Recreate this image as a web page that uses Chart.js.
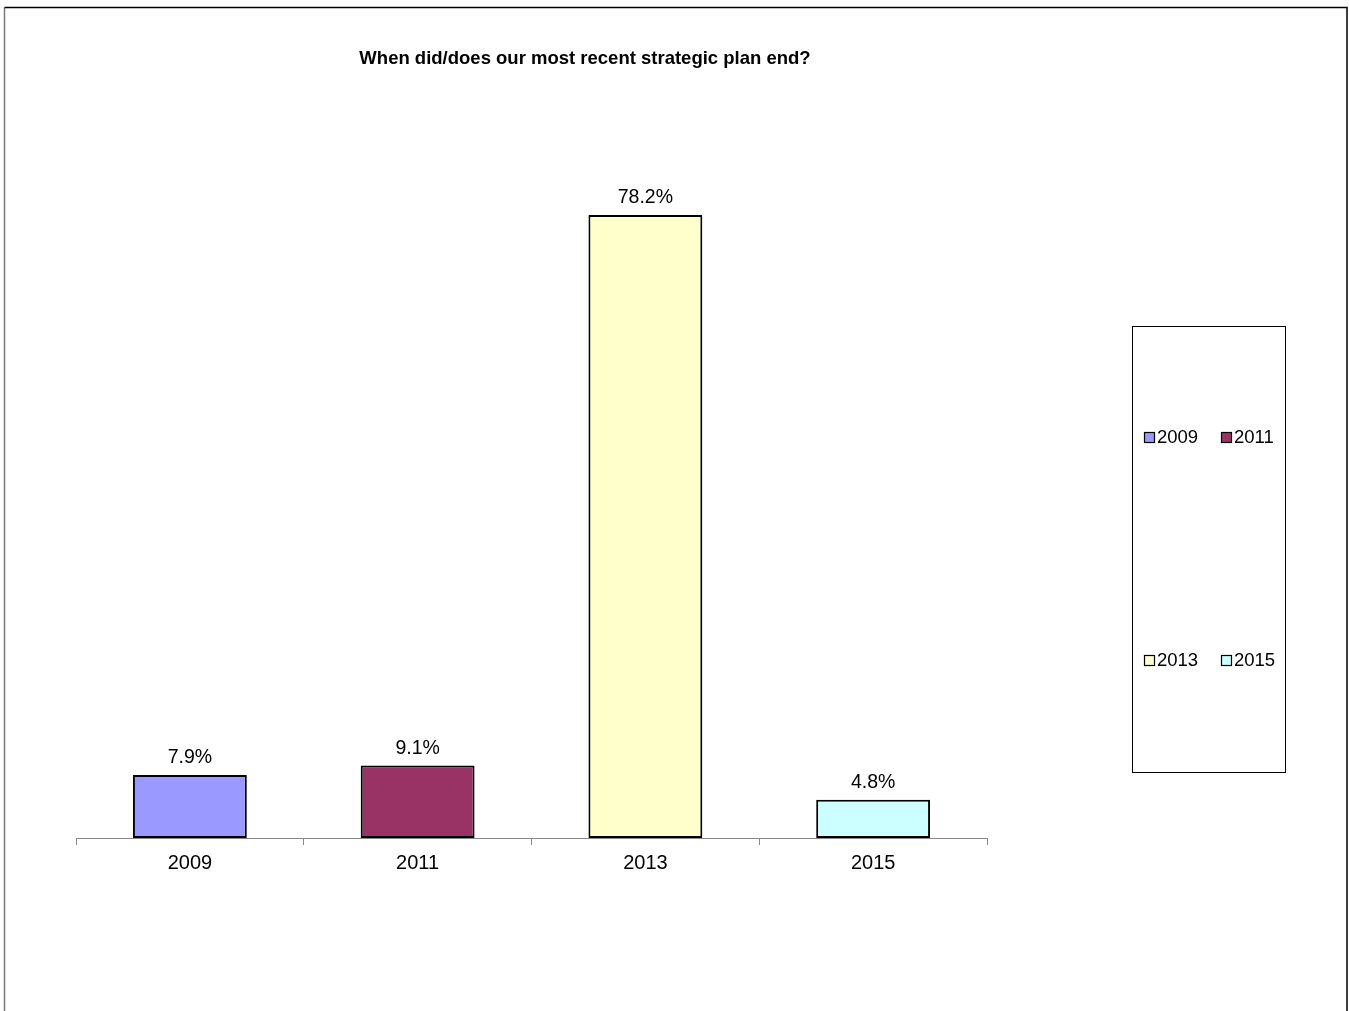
<!DOCTYPE html>
<html>
<head>
<meta charset="utf-8">
<script src="https://cdn.jsdelivr.net/npm/chart.js@4/dist/chart.umd.min.js"></script>
<style>
  html, body { margin: 0; padding: 0; background: #fff; }
  canvas { display: block; }
</style>
</head>
<body>
<canvas id="chart" width="1349" height="1011"></canvas>
<script>
// Survey answers: year the most recent strategic plan ended / ends
const categories = ['2009', '2011', '2013', '2015'];
const shares = [7.9, 9.1, 78.2, 4.8];
const barColors = ['#9999FF', '#993366', '#FFFFCC', '#CCFFFF'];
const chartTitle = 'When did/does our most recent strategic plan end?';

const FONT = '"Liberation Sans", Arial, sans-serif';

// Frame, title, value labels and the boxed legend
const decorations = {
  id: 'decorations',
  beforeDraw(chart) {
    const ctx = chart.ctx;
    ctx.save();
    ctx.fillStyle = '#fff';
    ctx.fillRect(0, 0, chart.width, chart.height);
    ctx.lineWidth = 1.5;
    ctx.strokeStyle = '#777';
    ctx.beginPath();
    ctx.moveTo(4.5, 1011);
    ctx.lineTo(4.5, 7.5);
    ctx.stroke();
    ctx.strokeStyle = '#000';
    ctx.beginPath();
    ctx.moveTo(4.5, 7.5);
    ctx.lineTo(1347, 7.5);
    ctx.lineTo(1347, 1011);
    ctx.stroke();
    ctx.restore();
  },
  afterDraw(chart) {
    const ctx = chart.ctx;
    ctx.save();
    // title
    ctx.fillStyle = '#000';
    ctx.font = 'bold 18.5px ' + FONT;
    ctx.textAlign = 'center';
    ctx.textBaseline = 'middle';
    ctx.fillText(chartTitle, 585, 59);

    // value labels above bars
    ctx.font = '19.5px ' + FONT;
    ctx.textBaseline = 'alphabetic';
    const meta = chart.getDatasetMeta(0);
    meta.data.forEach((bar, i) => {
      ctx.fillText(shares[i].toFixed(1) + '%', bar.x, bar.y - 12);
    });

    // legend box
    ctx.lineWidth = 1;
    ctx.strokeStyle = '#000';
    ctx.strokeRect(1132.5, 326.5, 153, 446);
    const cols = [1144, 1221];
    const rows = [437, 660];
    ctx.font = '18.5px ' + FONT;
    ctx.textAlign = 'left';
    ctx.textBaseline = 'middle';
    categories.forEach((c, i) => {
      const x = cols[i % 2];
      const y = rows[Math.floor(i / 2)];
      ctx.fillStyle = barColors[i];
      ctx.fillRect(x + 0.5, y - 4.5, 10, 10);
      ctx.strokeStyle = '#000';
      ctx.lineWidth = 1.2;
      ctx.strokeRect(x + 0.5, y - 4.5, 10, 10);
      ctx.fillStyle = '#000';
      ctx.fillText(c, x + 13, y + 1);
    });
    ctx.restore();
  }
};

new Chart(document.getElementById('chart'), {
  type: 'bar',
  data: {
    labels: categories,
    datasets: [{
      data: shares,
      backgroundColor: barColors,
      borderColor: '#000',
      borderWidth: 2,
      borderSkipped: false,
      barPercentage: 0.5,
      categoryPercentage: 1.0
    }]
  },
  options: {
    responsive: false,
    animation: false,
    devicePixelRatio: 1,
    layout: { padding: { left: 76, right: 362, top: 121, bottom: 0 } },
    plugins: {
      legend: { display: false },
      title: { display: false },
      tooltip: { enabled: false }
    },
    scales: {
      x: {
        offset: true,
        grid: {
          offset: true,
          drawOnChartArea: false,
          drawTicks: true,
          tickLength: 7,
          color: '#888'
        },
        border: { display: true, color: '#888', width: 1 },
        ticks: {
          color: '#000',
          padding: 6,
          font: { family: FONT, size: 20 }
        },
        afterFit(scale) { scale.height = 173; }
      },
      y: {
        display: false,
        min: 0,
        max: 90
      }
    }
  },
  plugins: [decorations]
});
</script>
</body>
</html>
